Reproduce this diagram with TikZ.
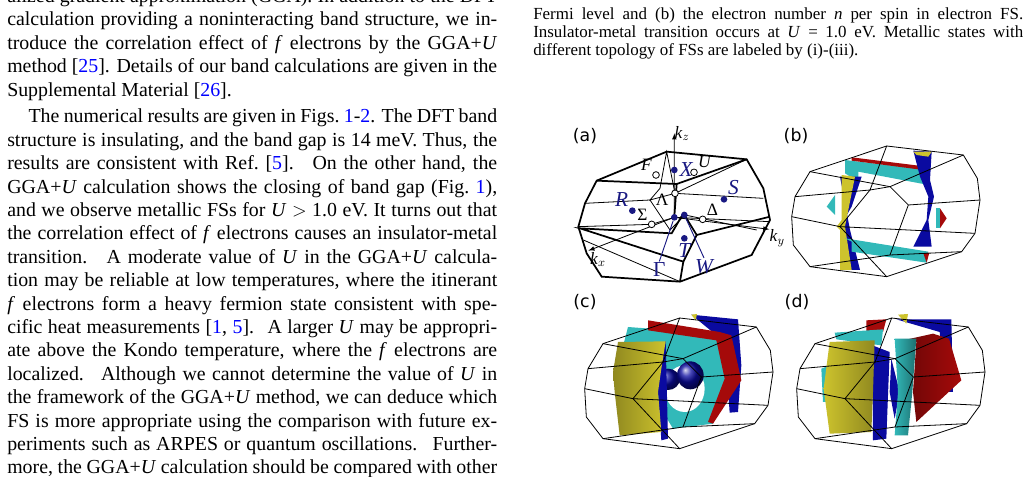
\documentclass[tikz,border=0pt]{standalone}
\usepackage{fontspec}
\setmainfont{Liberation Serif}
\setsansfont{DejaVu Sans}
\usetikzlibrary{positioning}
\definecolor{fsyellow}{RGB}{205,195,45}
\definecolor{fsblue}{RGB}{10,10,160}
\definecolor{fscyan}{RGB}{50,185,185}
\definecolor{fsred}{RGB}{165,10,10}
\definecolor{ptblue}{RGB}{25,25,130}
\newcommand{\rf}[1]{\textcolor{blue}{#1}}
\tikzset{
  body/.style={anchor=base west,inner sep=0pt,text width=367.5pt,align=justify,
    font=\fontsize{14.9}{17.55}\selectfont},
  capt/.style={anchor=base west,inner sep=0pt,text width=367.5pt,align=justify,
    font=\fontsize{12.7}{13.4}\selectfont},
  panel/.style={font=\sffamily\fontsize{13}{13}\selectfont,inner sep=0pt},
  bz/.style={line width=0.6pt,black},
  bzthick/.style={line width=1.3pt,black},
  fill pt/.style={circle,fill=ptblue,inner sep=0pt,minimum size=5pt},
  open pt/.style={circle,draw=black,fill=white,line width=0.6pt,inner sep=0pt,minimum size=5pt},
  lbl/.style={inner sep=1pt,font=\fontsize{13}{13}\selectfont},
  bluelbl/.style={lbl,text=ptblue,font=\fontsize{16}{16}\selectfont\itshape},
}
% wire frame of the zone, in zoom units
\newcommand{\bzframe}{%
  \draw[bz] (90,155) -- (320,78) -- (550,105) -- (592,175) -- (600,240) -- (585,340)
    -- (545,395) -- (320,470) -- (90,440) -- (40,375) -- (35,290) -- (45,230) -- cycle;
  \draw[bz] (90,155) -- (330,200) -- (550,105);
  \draw[bz] (90,440) -- (330,405) -- (545,395);
  \draw[bz] (320,78) -- (270,210) -- (330,200);
  \draw[bz] (35,290) -- (180,320) -- (270,210);
  \draw[bz] (180,320) -- (320,470);
  \draw[bz] (330,200) -- (385,255) -- (330,405);
  \draw[bz] (385,255) -- (600,240);
  \draw[bz] (45,230) -- (270,210);
  \draw[bz] (180,320) -- (385,330) -- (585,340);
}
\begin{document}
\begin{tikzpicture}[x=0.75pt,y=-0.75pt]
\useasboundingbox (0,0) rectangle (1029,477);
\fill[white] (0,0) rectangle (1029,477);

% left column
\node[body] (text) at (7,2.6) {%
alized gradient approximation (GGA). In addition to the DFT\linebreak
calculation providing a noninteracting band structure, we in-\linebreak
troduce the correlation effect of \textit{f} electrons by the GGA+\textit{U}\linebreak
method [\rf{25}]. Details of our band calculations are given in the\linebreak
Supplemental Material [\rf{26}].\par\vspace{2.5pt}
\hspace*{16pt}The numerical results are given in Figs.~\rf{1}-\rf{2}. The DFT band\linebreak
structure is insulating, and the band gap is 14 meV. Thus, the\linebreak
results are consistent with Ref.~[\rf{5}]. \ On the other hand, the\linebreak
GGA+\textit{U} calculation shows the closing of band gap (Fig.~\rf{1}),\linebreak
and we observe metallic FSs for \textit{U} $>$ 1.0 eV. It turns out that\linebreak
the correlation effect of \textit{f} electrons causes an insulator-metal\linebreak
transition. \ A moderate value of \textit{U} in the GGA+\textit{U} calcula-\linebreak
tion may be reliable at low temperatures, where the itinerant\linebreak
\textit{f} electrons form a heavy fermion state consistent with spe-\linebreak
cific heat measurements [\rf{1}, \rf{5}]. \ A larger \textit{U} may be appropri-\linebreak
ate above the Kondo temperature, where the \textit{f} electrons are\linebreak
localized. \ Although we cannot determine the value of \textit{U} in\linebreak
the framework of the GGA+\textit{U} method, we can deduce which\linebreak
FS is more appropriate using the comparison with future ex-\linebreak
periments such as ARPES or quantum oscillations. \ Further-\linebreak
more, the GGA+\textit{U} calculation should be compared with other};

% caption of the right column
\node[capt] (caption) at (533,19.3) {%
Fermi level and (b) the electron number \textit{n} per spin in electron FS.\linebreak
Insulator-metal transition occurs at \textit{U} = 1.0 eV. Metallic states with\linebreak
different topology of FSs are labeled by (i)-(iii).};

% panel labels
\node[panel] (la) at (585,136) {(a)};
\node[panel] (lb) at (796,136) {(b)};
\node[panel] (lc) at (585,302) {(c)};
\node[panel] (ld) at (797,302) {(d)};

% (a) zone with symmetry points
\begin{scope}[shift={(570,120)},scale=1/3]
  \draw[bz] (290,95) -- (270,205) -- (240,240) -- (315,220) -- cycle;
  \draw[bz] (240,240) -- (300,330) -- (345,285);
  \draw[bz] (45,250) -- (240,240);
  \draw[bz] (25,320) -- (245,313) -- (313,292) -- (600,305);
  \draw[bz] (530,118) -- (315,220) -- (580,235);
  \draw[bz] (40,360) -- (330,485);
  \draw[bz] (345,285) -- (560,330);
  \draw[bzthick] (80,182) -- (290,95) -- (530,118) -- (580,205) -- (600,300)
    -- (545,405) -- (330,485) -- (95,470) -- (50,400) -- (25,320) -- (45,250) -- cycle;
  \draw[bzthick] (80,182) -- (320,192) -- (530,118);
  \draw[bzthick] (320,192) -- (313,290);
  \draw[bzthick] (30,325) -- (305,340) -- (340,280) -- (380,345) -- (340,425) -- cycle;
  \draw[bzthick] (340,425) -- (330,485);
  \draw[bzthick] (380,345) -- (600,290);
  \coordinate (o) at (313,292);
  \draw[-latex,line width=0.6pt] (o) -- (313,40) node[right,lbl,inner sep=0pt] (kz) {\textit{k}$_z$};
  \draw[-latex,line width=0.6pt] (o) -- (598,328) node[below right,lbl,inner sep=0pt] (ky) {\textit{k}$_y$};
  \draw[-latex,line width=0.6pt] (o) -- (55,392) node[below right,lbl,inner sep=1pt] (kx) {\textit{k}$_x$};
  \node[open pt] (F) at (258,165) {};
  \node[open pt] (U) at (372,157) {};
  \node[open pt] (Lam) at (315,220) {};
  \node[open pt] (Sig) at (245,313) {};
  \node[open pt] (Del) at (398,298) {};
  \node[fill pt] (X) at (313,150) {};
  \node[fill pt] (R) at (187,272) {};
  \node[fill pt] (S) at (462,238) {};
  \node[fill pt] (G) at (313,292) {};
  \node[fill pt] (Wp) at (343,285) {};
  \node[fill pt] (T) at (343,355) {};
  \node[lbl,above left=0pt of F] {\textit{F}};
  \node[lbl,above right=0pt of U] {\textit{U}};
  \node[bluelbl,right=0pt of X] {X};
  \node[bluelbl,above left=0pt of R] {R};
  \node[bluelbl,above right=0pt of S] {S};
  \node[lbl,left=1pt of Lam,yshift=-5pt] {Λ};
  \node[lbl,above left=0pt of Sig] {Σ};
  \node[lbl,above right=0pt of Del] {Δ};
  \node[bluelbl,below=0pt of T] {T};
  \node[lbl,text=ptblue,font=\fontsize{16}{16}\selectfont] (Gl) at (268,450) {Γ};
  \node[bluelbl] (Wl) at (402,440) {W};
  \draw[ptblue,line width=0.7pt] (Gl.north) -- (G);
  \draw[ptblue,line width=0.7pt] (Wl.north) -- (Wp);
\end{scope}

% (b) Fermi surfaces
\begin{scope}[shift={(780,120)},scale=1/3]
  \fill[fscyan] (195,120) -- (445,150) -- (450,190) -- (430,192) -- (235,155) -- (235,185) -- (195,160) -- cycle;
  \fill[fsred] (215,112) -- (440,140) -- (445,152) -- (215,122) -- cycle;
  \fill[fsblue] (400,92) -- (455,95) -- (450,180) -- (462,230) -- (445,300) -- (455,380) -- (400,380) -- (440,300) -- (445,230) -- (420,170) -- cycle;
  \fill[fsyellow] (400,95) -- (455,95) -- (445,110) -- (410,105) -- cycle;
  \fill[fsblue] (180,170) -- (245,170) -- (215,260) -- (180,320) -- (195,450) -- (240,450) -- (210,330) -- cycle;
  \fill[fsyellow] (185,165) -- (225,170) -- (195,320) -- (215,450) -- (180,450) -- (180,330) -- (170,320) -- (185,300) -- cycle;
  \fill[fscyan] (195,355) -- (445,395) -- (440,428) -- (215,395) -- (215,365) -- cycle;
  \fill[fsred] (430,400) -- (448,398) -- (440,428) -- cycle;
  \fill[fscyan] (165,225) -- (165,285) -- (140,260) -- cycle;
  \fill[fscyan] (468,265) -- (480,265) -- (480,325) -- (468,325) -- cycle;
  \fill[fsred] (480,265) -- (500,295) -- (480,325) -- cycle;
  \bzframe
\end{scope}

% (c) Fermi surfaces
\begin{scope}[shift={(573,292)},scale=1/3]
  \fill[fsblue] (355,68) -- (495,82) -- (505,220) -- (495,360) -- (470,362) -- (455,150) -- cycle;
  \fill[fsyellow] (355,68) -- (372,66) -- (368,85) -- cycle;
  \fill[fscyan] (165,105) -- (430,125) -- (460,260) -- (420,395) -- (300,410) -- (270,360) -- (190,280) -- (130,240) -- cycle;
  \fill[white] (335,290) ellipse (60 and 70);
  \fill[fsred] (225,85) -- (440,120) -- (475,130) -- (505,265) -- (420,395) -- (405,390) -- (455,260) -- (430,145) -- (225,115) -- cycle;
  \shade[ball color=fsblue] (285,262) ellipse (35 and 32);
  \shade[ball color=fsblue] (352,250) ellipse (40 and 42);
  \fill[fsblue] (262,160) -- (278,148) -- (285,440) -- (265,445) -- (255,300) -- cycle;
  \shade[left color=fsyellow!70!black,right color=fsyellow] (135,150) -- (278,148) -- (265,230)
    -- (255,300) -- (265,420) -- (140,430) -- (125,300) -- (120,240) -- cycle;
  \bzframe
\end{scope}

% (d) Fermi surfaces
\begin{scope}[shift={(573,292)},scale=1/3]
  \fill[fsblue] (970,82) -- (1135,82) -- (1140,300) -- (1120,300) -- (1100,120) -- cycle;
  \fill[fsyellow] (975,68) -- (1005,66) -- (1000,95) -- cycle;
  \fill[fsred] (880,85) -- (940,82) -- (930,120) -- (880,118) -- cycle;
  \fill[fscyan] (785,122) -- (930,112) -- (925,160) -- (790,142) -- cycle;
  \fill[fscyan] (745,230) -- (770,220) -- (770,330) -- (750,330) -- cycle;
  \fill[fsblue] (955,200) -- (980,300) -- (965,380) -- (950,300) -- cycle;
  \shade[left color=fsred!60!black,right color=fsred] (968,150) -- (1080,125) -- (1128,140) -- (1165,265)
    -- (1030,390) -- (1020,300) -- (1030,150) -- cycle;
  \shade[left color=fscyan,right color=fscyan!60!black] (965,140) -- (1030,140) -- (1018,300)
    -- (1005,430) -- (965,430) -- (975,300) -- cycle;
  \fill[fsblue] (898,160) -- (950,180) -- (940,440) -- (900,445) -- cycle;
  \shade[left color=fsyellow,right color=fsyellow!70!black] (770,150) -- (905,145) -- (900,300)
    -- (895,420) -- (770,425) -- (752,290) -- cycle;
  \begin{scope}[shift={(636,0)}]
    \bzframe
  \end{scope}
\end{scope}
\end{tikzpicture}
\end{document}
